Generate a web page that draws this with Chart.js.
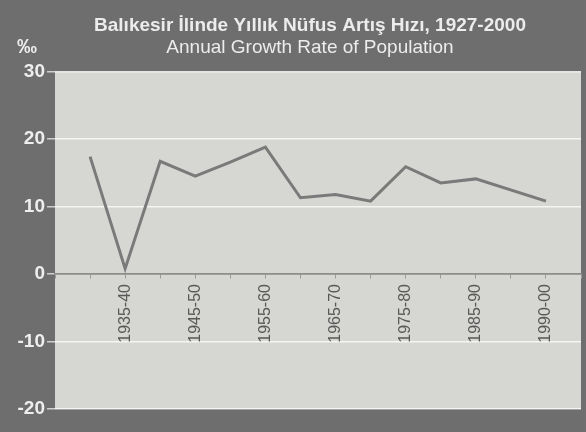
<!DOCTYPE html>
<html>
<head>
<meta charset="utf-8">
<script src="https://cdn.jsdelivr.net/npm/chart.js@4/dist/chart.umd.min.js"></script>
<style>
  html, body { margin: 0; padding: 0; background: #6e6e6e; }
  #wrap { width: 586px; height: 432px; }
</style>
</head>
<body>
<div id="wrap"><canvas id="c" width="586" height="432"></canvas></div>
<script>
// Periods (one slot between 1985-90 and 1990-00 has no value)
const categories = ['1927-35','1935-40','1940-45','1945-50','1950-55','1955-60','1960-65',
                    '1965-70','1970-75','1975-80','1980-85','1985-90','','1990-00'];
const growthRate = [17.4, 0.8, 16.7, 14.5, 16.6, 18.8, 11.3, 11.8, 10.8, 15.9, 13.5, 14.1, null, 10.8];
const yTicks = [30, 20, 10, 0, -10, -20];
const titleText = 'Balıkesir İlinde Yıllık Nüfus Artış Hızı, 1927-2000';
const subtitleText = 'Annual Growth Rate of Population';
const unitText = '‰';

const points = categories.map((c, i) => ({ x: i, y: growthRate[i] }));
const FONT = '"Liberation Sans", Arial, sans-serif';

const plotBg = {
  id: 'plotBg',
  afterLayout(chart) {
    // let the y tick labels extend into the left margin without clipping
    const y = chart.scales.y;
    y.left = 0;
  },
  beforeDraw(chart) {
    const { ctx, chartArea: a } = chart;
    ctx.save();
    ctx.fillStyle = '#d6d6d2';
    ctx.fillRect(a.left, a.top, a.right - a.left, a.bottom - a.top);
    ctx.restore();
  },
  afterDraw(chart) {
    const { ctx } = chart;
    ctx.save();
    ctx.fillStyle = '#eeeeee';
    ctx.font = 'bold 20px ' + FONT;
    ctx.textBaseline = 'middle';
    ctx.fillText(unitText, 17, 47);
    ctx.restore();
  }
};

new Chart(document.getElementById('c'), {
  type: 'line',
  data: {
    datasets: [{
      data: points,
      borderColor: '#7a7a7a',
      borderWidth: 3,
      pointRadius: 0,
      spanGaps: true,
      tension: 0
    }]
  },
  options: {
    responsive: false,
    animation: false,
    layout: { padding: { left: 39, right: 5, bottom: 23, top: 0 } },
    plugins: {
      legend: { display: false },
      tooltip: { enabled: false },
      title: {
        display: true,
        text: titleText,
        color: '#ececec',
        font: { family: FONT, size: 19, weight: 'bold' },
        padding: { top: 14, bottom: 0 }
      },
      subtitle: {
        display: true,
        text: subtitleText,
        color: '#ececec',
        font: { family: FONT, size: 19, weight: 'normal' },
        padding: { top: 0, bottom: 12 }
      }
    },
    scales: {
      x: {
        type: 'linear',
        position: { y: 0 },
        min: -1,
        max: 14,
        afterBuildTicks(scale) {
          scale.ticks = [];
          for (let v = -1; v <= 14; v++) scale.ticks.push({ value: v });
        },
        afterFit(scale) {
          scale.paddingLeft = 0;
          scale.paddingRight = 0;
        },
        ticks: {
          autoSkip: false,
          minRotation: 90,
          maxRotation: 90,
          padding: 6,
          color: '#585858',
          font: { family: FONT, size: 16 },
          callback(v) {
            const i = Math.round(v);
            if (i < 0 || i >= categories.length || i % 2 === 0) return '';
            return categories[i];
          }
        },
        grid: { drawOnChartArea: false, tickLength: 4, color: '#9a9a9a' },
        border: { display: true, color: '#8c8c8c', width: 1.5 }
      },
      y: {
        min: -20,
        max: 30,
        afterBuildTicks(scale) { scale.ticks = yTicks.map(v => ({ value: v })); },
        afterFit(scale) {
          scale.width = 16;
          scale.paddingTop = 0;
          scale.paddingBottom = 0;
        },
        ticks: {
          padding: 2,
          color: '#eeeeee',
          font: { family: FONT, size: 19, weight: 'bold' },
          callback: (v) => String(v)
        },
        grid: {
          tickLength: 8,
          tickColor: '#cfcfcf',
          color: (ctx) => ctx.tick && ctx.tick.value === 0 ? '#8c8c8c' : 'rgba(255,255,255,0.75)',
          lineWidth: 1.5
        },
        border: { display: false }
      }
    }
  },
  plugins: [plotBg]
});
</script>
</body>
</html>
